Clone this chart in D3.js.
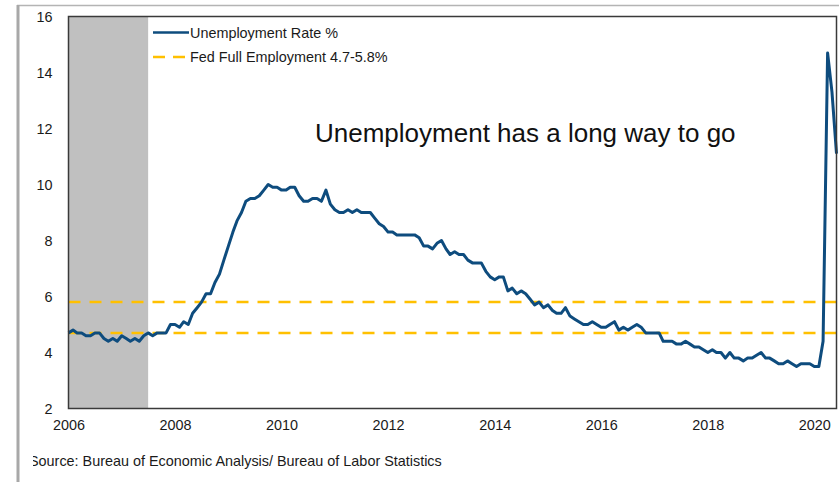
<!DOCTYPE html>
<html>
<head>
<meta charset="utf-8">
<script src="https://cdn.jsdelivr.net/npm/d3@7"></script>
<style>
  html, body { margin: 0; padding: 0; background: #fff; }
  svg { display: block; font-family: "Liberation Sans", Arial, sans-serif; }
</style>
</head>
<body>
<svg id="chart" width="839" height="482"></svg>
<script>
// Monthly U.S. unemployment rate (%), January 2006 through June 2020
const firstMonth = [2006, 0];
const unemploymentRate = [
  4.7, 4.8, 4.7, 4.7, 4.6, 4.6, 4.7, 4.7, 4.5, 4.4, 4.5, 4.4,   // 2006
  4.6, 4.5, 4.4, 4.5, 4.4, 4.6, 4.7, 4.6, 4.7, 4.7, 4.7, 5.0,   // 2007
  5.0, 4.9, 5.1, 5.0, 5.4, 5.6, 5.8, 6.1, 6.1, 6.5, 6.8, 7.3,   // 2008
  7.8, 8.3, 8.7, 9.0, 9.4, 9.5, 9.5, 9.6, 9.8, 10.0, 9.9, 9.9,  // 2009
  9.8, 9.8, 9.9, 9.9, 9.6, 9.4, 9.4, 9.5, 9.5, 9.4, 9.8, 9.3,   // 2010
  9.1, 9.0, 9.0, 9.1, 9.0, 9.1, 9.0, 9.0, 9.0, 8.8, 8.6, 8.5,   // 2011
  8.3, 8.3, 8.2, 8.2, 8.2, 8.2, 8.2, 8.1, 7.8, 7.8, 7.7, 7.9,   // 2012
  8.0, 7.7, 7.5, 7.6, 7.5, 7.5, 7.3, 7.2, 7.2, 7.2, 6.9, 6.7,   // 2013
  6.6, 6.7, 6.7, 6.2, 6.3, 6.1, 6.2, 6.1, 5.9, 5.7, 5.8, 5.6,   // 2014
  5.7, 5.5, 5.4, 5.4, 5.6, 5.3, 5.2, 5.1, 5.0, 5.0, 5.1, 5.0,   // 2015
  4.9, 4.9, 5.0, 5.1, 4.8, 4.9, 4.8, 4.9, 5.0, 4.9, 4.7, 4.7,   // 2016
  4.7, 4.7, 4.4, 4.4, 4.4, 4.3, 4.3, 4.4, 4.3, 4.2, 4.2, 4.1,   // 2017
  4.0, 4.1, 4.0, 4.0, 3.8, 4.0, 3.8, 3.8, 3.7, 3.8, 3.8, 3.9,   // 2018
  4.0, 3.8, 3.8, 3.7, 3.6, 3.6, 3.7, 3.6, 3.5, 3.6, 3.6, 3.6,   // 2019
  3.5, 3.5, 4.4, 14.7, 13.3, 11.1                               // 2020
];

// Fed full-employment range (%)
const fullEmploymentBand = [4.7, 5.8];

// Shaded period at the start of the series: [start, end] as [year, month]
const shadedPeriod = [[2006, 0], [2007, 6]];

const yDomain = [2, 16];
const yTickValues = [2, 4, 6, 8, 10, 12, 14, 16];
const xTickYears = [2006, 2008, 2010, 2012, 2014, 2016, 2018, 2020];

const legendLabels = ["Unemployment Rate %", "Fed Full Employment 4.7-5.8%"];
const annotationText = "Unemployment has a long way to go";
const sourceText = "Source: Bureau of Economic Analysis/ Bureau of Labor Statistics";

// ---- drawing ----
const W = 839, H = 482;
const plot = { left: 68.5, right: 836.5, top: 16.5, bottom: 408.5 };
const blue = "#0e4c7e", gold = "#ffc000";
const smallFont = 14.4;

const series = unemploymentRate.map((v, i) => ({
  date: d3.timeMonth.offset(new Date(firstMonth[0], firstMonth[1], 1), i),
  value: v
}));

const svg = d3.select("#chart");
svg.append("rect").attr("width", W).attr("height", H).attr("fill", "#fff");

const x = d3.scaleTime()
  .domain(d3.extent(series, d => d.date))
  .range([plot.left, plot.right]);
const y = d3.scaleLinear().domain(yDomain).range([plot.bottom, plot.top]);

// slide frame
svg.append("line")
  .attr("x1", 17).attr("x2", W).attr("y1", 5.5).attr("y2", 5.5)
  .attr("stroke", "#b4b4b4").attr("stroke-width", 1.5);
svg.append("rect")
  .attr("x", 16.5).attr("y", 5).attr("width", 3).attr("height", H - 5)
  .attr("fill", "#a8a8a8");

// shaded period
const bandStart = new Date(shadedPeriod[0][0], shadedPeriod[0][1], 1);
const bandEnd = new Date(shadedPeriod[1][0], shadedPeriod[1][1], 1);
svg.append("rect")
  .attr("x", x(bandStart)).attr("y", plot.top)
  .attr("width", x(bandEnd) - x(bandStart))
  .attr("height", plot.bottom - plot.top)
  .attr("fill", "#c0c0c0");

// full-employment reference lines
svg.append("g").selectAll("line")
  .data(fullEmploymentBand)
  .join("line")
  .attr("x1", plot.left).attr("x2", plot.right)
  .attr("y1", d => y(d)).attr("y2", d => y(d))
  .attr("stroke", gold).attr("stroke-width", 2.5)
  .attr("stroke-dasharray", "12,9");

// unemployment line
svg.append("path")
  .datum(series)
  .attr("fill", "none")
  .attr("stroke", blue)
  .attr("stroke-width", 3)
  .attr("stroke-linejoin", "round")
  .attr("d", d3.line().x(d => x(d.date)).y(d => y(d.value)));

// plot box
svg.append("rect")
  .attr("x", plot.left).attr("y", plot.top)
  .attr("width", plot.right - plot.left)
  .attr("height", plot.bottom - plot.top)
  .attr("fill", "none").attr("stroke", "#3a3a3a").attr("stroke-width", 1.5);

// axes
const yAxis = svg.append("g")
  .attr("transform", `translate(${plot.left},0)`)
  .call(d3.axisLeft(y).tickValues(yTickValues).tickSize(0).tickPadding(16).tickFormat(d3.format("d")));
const xAxis = svg.append("g")
  .attr("transform", `translate(0,${plot.bottom})`)
  .call(d3.axisBottom(x)
    .tickValues(xTickYears.map(yr => new Date(yr, 0, 1)))
    .tickSize(0).tickPadding(11.5)
    .tickFormat(d3.timeFormat("%Y")));
[yAxis, xAxis].forEach(g => {
  g.select(".domain").remove();
  g.selectAll("text")
    .attr("font-family", "'Liberation Sans', Arial, sans-serif")
    .attr("font-size", smallFont).attr("fill", "#1a1a1a");
});

// legend
const legend = svg.append("g");
legend.append("line")
  .attr("x1", 153).attr("x2", 189).attr("y1", 32.5).attr("y2", 32.5)
  .attr("stroke", blue).attr("stroke-width", 2.5);
legend.append("line")
  .attr("x1", 153).attr("x2", 185).attr("y1", 57).attr("y2", 57)
  .attr("stroke", gold).attr("stroke-width", 2.5)
  .attr("stroke-dasharray", "12,8");
legend.selectAll("text")
  .data(legendLabels)
  .join("text")
  .attr("x", 190)
  .attr("y", (d, i) => 37.5 + i * 24.5)
  .attr("font-size", smallFont).attr("fill", "#1a1a1a")
  .text(d => d);

// annotation
svg.append("text")
  .attr("x", 315).attr("y", 141.5)
  .attr("font-size", 26).attr("fill", "#111")
  .text(annotationText);

// source note, cut at the left edge of the slide body
svg.append("clipPath").attr("id", "srcClip")
  .append("rect").attr("x", 33).attr("y", 440).attr("width", 600).attr("height", 42);
svg.append("text")
  .attr("clip-path", "url(#srcClip)")
  .attr("x", 29).attr("y", 466)
  .attr("font-size", smallFont).attr("fill", "#1a1a1a")
  .text(sourceText);
</script>
</body>
</html>
